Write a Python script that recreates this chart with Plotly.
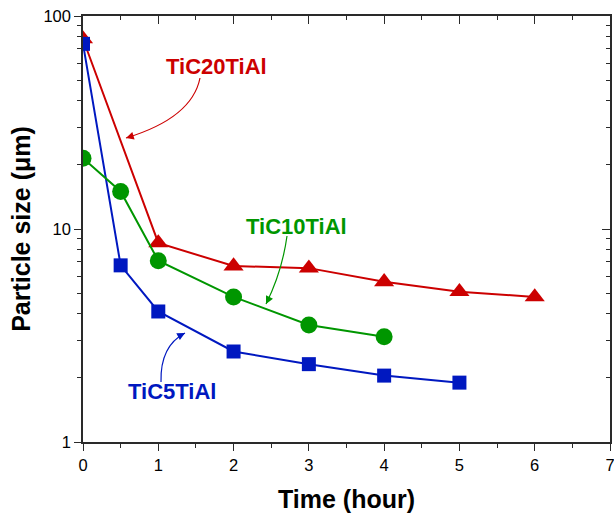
import plotly.graph_objects as go

# ---- data ----
time_tic20 = [0, 1, 2, 3, 4, 5, 6]
size_tic20 = [78, 8.6, 6.7, 6.55, 5.65, 5.08, 4.8]
time_tic10 = [0, 0.5, 1, 2, 3, 4]
size_tic10 = [21.5, 15.0, 7.1, 4.8, 3.54, 3.12]
time_tic5 = [0, 0.5, 1, 2, 3, 4, 5]
size_tic5 = [74, 6.75, 4.1, 2.66, 2.32, 2.05, 1.9]

x_ticks = [0, 1, 2, 3, 4, 5, 6, 7]
y_ticks = [1, 10, 100]
y_tick_text = ["1", "10", "100"]
y_minor = [2, 3, 4, 5, 6, 7, 8, 9, 20, 30, 40, 50, 60, 70, 80, 90]

RED = "#CC0000"
GREEN = "#009600"
BLUE = "#0018C0"
AX = "#2a2a2a"
FONT = "Liberation Sans, Arial, sans-serif"

W, H = 614, 517
L, R, T, B = 83, 4, 16, 75
PW, PH = W - L - R, H - T - B

fig = go.Figure()
fig.add_trace(go.Scatter(x=time_tic20, y=size_tic20, mode="lines+markers", name="TiC20TiAl",
                         line=dict(color=RED, width=2),
                         marker=dict(symbol="triangle-up", size=17.5, color=RED)))
fig.add_trace(go.Scatter(x=time_tic5, y=size_tic5, mode="lines+markers", name="TiC5TiAl",
                         line=dict(color=BLUE, width=2),
                         marker=dict(symbol="square", size=14, color=BLUE)))
fig.add_trace(go.Scatter(x=time_tic10, y=size_tic10, mode="lines+markers", name="TiC10TiAl",
                         line=dict(color=GREEN, width=2),
                         marker=dict(symbol="circle", size=17, color=GREEN)))
# dummy trace to activate the mirrored axes
fig.add_trace(go.Scatter(x=[], y=[], xaxis="x2", yaxis="y2", showlegend=False, hoverinfo="skip"))

def px2paper(px, py):
    return (px - L) / PW, (H - B - py) / PH

def curved_arrow(p0, c, p2, color, text, tpos):
    x0, y0 = px2paper(*p0)
    cx, cy = px2paper(*c)
    x2, y2 = px2paper(*p2)
    fig.add_shape(type="path", xref="paper", yref="paper",
                  path=f"M {x0},{y0} Q {cx},{cy} {x2},{y2}",
                  line=dict(color=color, width=1.2))
    dx, dy = p2[0] - c[0], p2[1] - c[1]
    n = (dx * dx + dy * dy) ** 0.5
    fig.add_annotation(xref="paper", yref="paper", x=x2, y=y2, text="",
                       showarrow=True, arrowhead=2, arrowsize=1.3, arrowwidth=1.2,
                       arrowcolor=color, ax=-dx / n * 8, ay=-dy / n * 8)
    tx, ty = px2paper(*tpos)
    fig.add_annotation(xref="paper", yref="paper", x=tx, y=ty, text=f"<b>{text}</b>",
                       showarrow=False, font=dict(family=FONT, size=22, color=color),
                       xanchor="center", yanchor="middle")

curved_arrow((200, 78), (192, 118), (126, 138), RED, "TiC20TiAl", (216.5, 67))
curved_arrow((287, 236), (282, 272), (266, 304), GREEN, "TiC10TiAl", (296, 226))
curved_arrow((161, 382), (160, 346), (185, 333), BLUE, "TiC5TiAl", (172, 391))

common = dict(showline=True, linecolor=AX, linewidth=1.5, tickcolor=AX, tickwidth=1.3,
              showgrid=False, zeroline=False, automargin=False)

fig.update_layout(
    width=W, height=H,
    margin=dict(l=L, r=R, t=T, b=B),
    paper_bgcolor="white", plot_bgcolor="white",
    showlegend=False,
    font=dict(family=FONT, size=16.5, color="black"),
    xaxis=dict(range=[0, 7], tickvals=x_ticks, ticks="outside", ticklen=7,
               ticklabeloverflow="allow",
               minor=dict(dtick=0.5, ticks="outside", ticklen=4, tickcolor=AX, tickwidth=1.3),
               title=dict(text="<b>Time (hour)</b>", font=dict(size=25, family=FONT), standoff=18),
               **common),
    yaxis=dict(type="log", range=[0, 2], tickvals=y_ticks, ticktext=y_tick_text,
               ticks="outside", ticklen=7, ticklabeloverflow="allow",
               minor=dict(tickvals=y_minor, ticks="outside", ticklen=4, tickcolor=AX, tickwidth=1.3),
               title=dict(text="<b>Particle size (μm)</b>", font=dict(size=25, family=FONT), standoff=6),
               **common),
    xaxis2=dict(overlaying="x", side="top", range=[0, 7], tickvals=x_ticks, ticks="inside",
                ticklen=8, showticklabels=False,
                minor=dict(dtick=0.5, ticks="inside", ticklen=4, tickcolor=AX, tickwidth=1.3),
                **common),
    yaxis2=dict(overlaying="y", side="right", type="log", range=[0, 2], tickvals=y_ticks,
                ticks="inside", ticklen=8, showticklabels=False,
                minor=dict(tickvals=y_minor, ticks="inside", ticklen=4, tickcolor=AX, tickwidth=1.3),
                **common),
)

fig.write_html("out.html", config={"displayModeBar": False},
               post_script="document.body.style.margin='0';")
